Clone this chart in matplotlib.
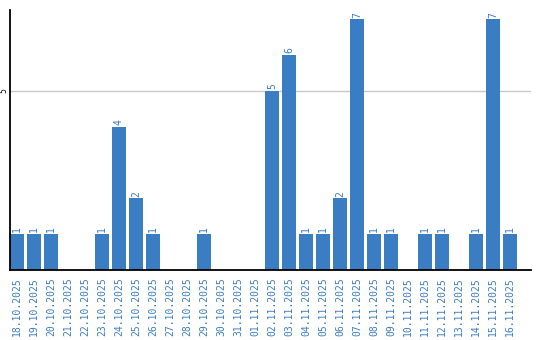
import matplotlib.pyplot as plt

dates = ['18.10.2025', '19.10.2025', '20.10.2025', '21.10.2025', '22.10.2025',
         '23.10.2025', '24.10.2025', '25.10.2025', '26.10.2025', '27.10.2025',
         '28.10.2025', '29.10.2025', '30.10.2025', '31.10.2025', '01.11.2025',
         '02.11.2025', '03.11.2025', '04.11.2025', '05.11.2025', '06.11.2025',
         '07.11.2025', '08.11.2025', '09.11.2025', '10.11.2025', '11.11.2025',
         '12.11.2025', '13.11.2025', '14.11.2025', '15.11.2025', '16.11.2025']
counts = [1, 1, 1, 0, 0, 1, 4, 2, 1, 0, 0, 1, 0, 0, 0,
          5, 6, 1, 1, 2, 7, 1, 1, 0, 1, 1, 0, 1, 7, 1]

blue = '#3a7dc2'

fig = plt.figure(figsize=(5.4, 3.4), dpi=100)
ax = fig.add_axes([10 / 540, 70 / 340, 521 / 540, 260 / 340])

x = list(range(len(dates)))
ax.bar(x, counts, width=0.82, color=blue, zorder=2)

# value labels above non-empty bars
for i, v in zip(x, counts):
    if v > 0:
        ax.text(i, v + 0.05, str(v), rotation=90, ha='center', va='bottom',
                color=blue, fontsize=7, family='DejaVu Sans Mono')

ax.set_xlim(-0.41, 30.24)
ax.set_ylim(0, 7.26)
ax.set_yticks([5])
ax.set_yticklabels(['5'], rotation=90, va='center', fontsize=5.5)
ax.yaxis.grid(True, color='#c8c8c8', linewidth=1, zorder=0)
ax.tick_params(axis='y', length=0, pad=1.5)

ax.set_xticks(x)
ax.set_xticklabels(dates, rotation=90, color=blue, fontsize=7,
                   family='DejaVu Sans Mono')
ax.tick_params(axis='x', length=0, pad=5)

ax.spines['top'].set_visible(False)
ax.spines['right'].set_visible(False)
ax.spines['left'].set_color('black')
ax.spines['bottom'].set_color('black')
ax.spines['left'].set_linewidth(1.3)
ax.spines['bottom'].set_linewidth(1.3)

fig.savefig('out.png', dpi=100)
plt.close(fig)
